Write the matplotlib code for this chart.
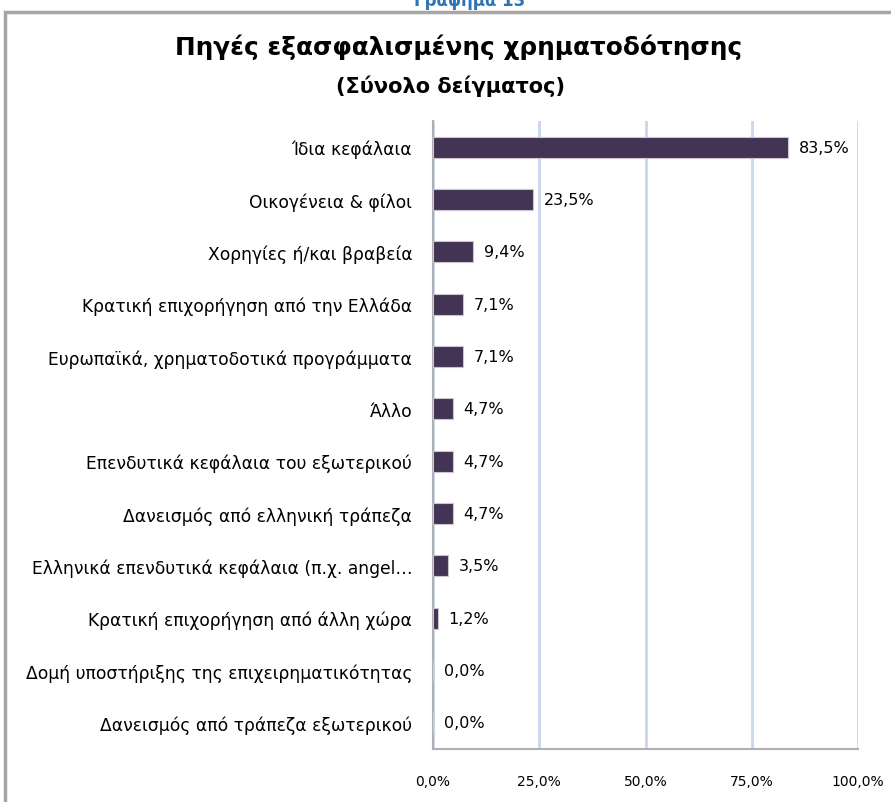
import matplotlib
matplotlib.use("Agg")
import matplotlib.pyplot as plt
from matplotlib.patches import Rectangle

categories = [
    "Ίδια κεφάλαια",
    "Οικογένεια & φίλοι",
    "Χορηγίες ή/και βραβεία",
    "Κρατική επιχορήγηση από την Ελλάδα",
    "Ευρωπαϊκά, χρηματοδοτικά προγράμματα",
    "Άλλο",
    "Επενδυτικά κεφάλαια του εξωτερικού",
    "Δανεισμός από ελληνική τράπεζα",
    "Ελληνικά επενδυτικά κεφάλαια (π.χ. angel…",
    "Κρατική επιχορήγηση από άλλη χώρα",
    "Δομή υποστήριξης της επιχειρηματικότητας",
    "Δανεισμός από τράπεζα εξωτερικού",
]
values = [83.5, 23.5, 9.4, 7.1, 7.1, 4.7, 4.7, 4.7, 3.5, 1.2, 0.0, 0.0]
xticks = [0, 25, 50, 75, 100]
xtick_labels = ["0,0%", "25,0%", "50,0%", "75,0%", "100,0%"]

title = "Πηγές εξασφαλισμένης χρηματοδότησης"
subtitle = "(Σύνολο δείγματος)"
caption = "Γράφημα 13"

plt.rcParams['font.family'] = ['DejaVu Sans']

W, H = 891, 803
fig = plt.figure(figsize=(W / 100, H / 100), dpi=100)

# outer chart border
fig.patches.append(Rectangle((5 / W, -0.05), 1.0, 1 - 13 / H + 0.05,
                             transform=fig.transFigure, fill=False,
                             edgecolor="#A6A6A6", linewidth=2.5))

fig.text(470 / W, 1 - 1 / H, caption, ha="center", va="center",
         fontsize=12, color="#2E74B5", fontweight="bold")

fig.text(459 / W, 1 - 47 / H, title, ha="center", va="center",
         fontsize=17.8, fontweight="bold", color="black")
fig.text(450 / W, 1 - 86 / H, subtitle, ha="center", va="center",
         fontsize=15, fontweight="bold", color="black")

ax = fig.add_axes([433 / W, 1 - 750 / H, (858 - 433) / W, (750 - 122) / H])

y = list(range(len(categories)))
ax.barh(y, values, height=0.4, color="#433455", edgecolor="#C9C5D0",
        linewidth=0.8, zorder=3)

for yi, v in zip(y, values):
    ax.text(v + 2.5, yi, f"{v:.1f}%".replace(".", ","), va="center",
            ha="left", fontsize=11.5, color="black")

ax.set_ylim(len(categories) - 0.5, -0.5)
ax.set_xlim(0, 100)
ax.set_yticks(y)
ax.set_yticklabels(categories, fontsize=12.3)
ax.set_xticks(xticks)
ax.set_xticklabels(xtick_labels, fontsize=10)
ax.tick_params(axis="y", length=0, pad=15)
ax.tick_params(axis="x", length=0, pad=18)

ax.grid(axis="x", color="#C8D6F0", linewidth=2, zorder=0)
for s in ["top", "right"]:
    ax.spines[s].set_visible(False)
ax.spines["left"].set_color("#B0B0B0")
ax.spines["bottom"].set_color("#B0B0B0")
ax.spines["left"].set_linewidth(1.5)
ax.spines["bottom"].set_linewidth(1.5)

fig.savefig("out.png", dpi=100)
